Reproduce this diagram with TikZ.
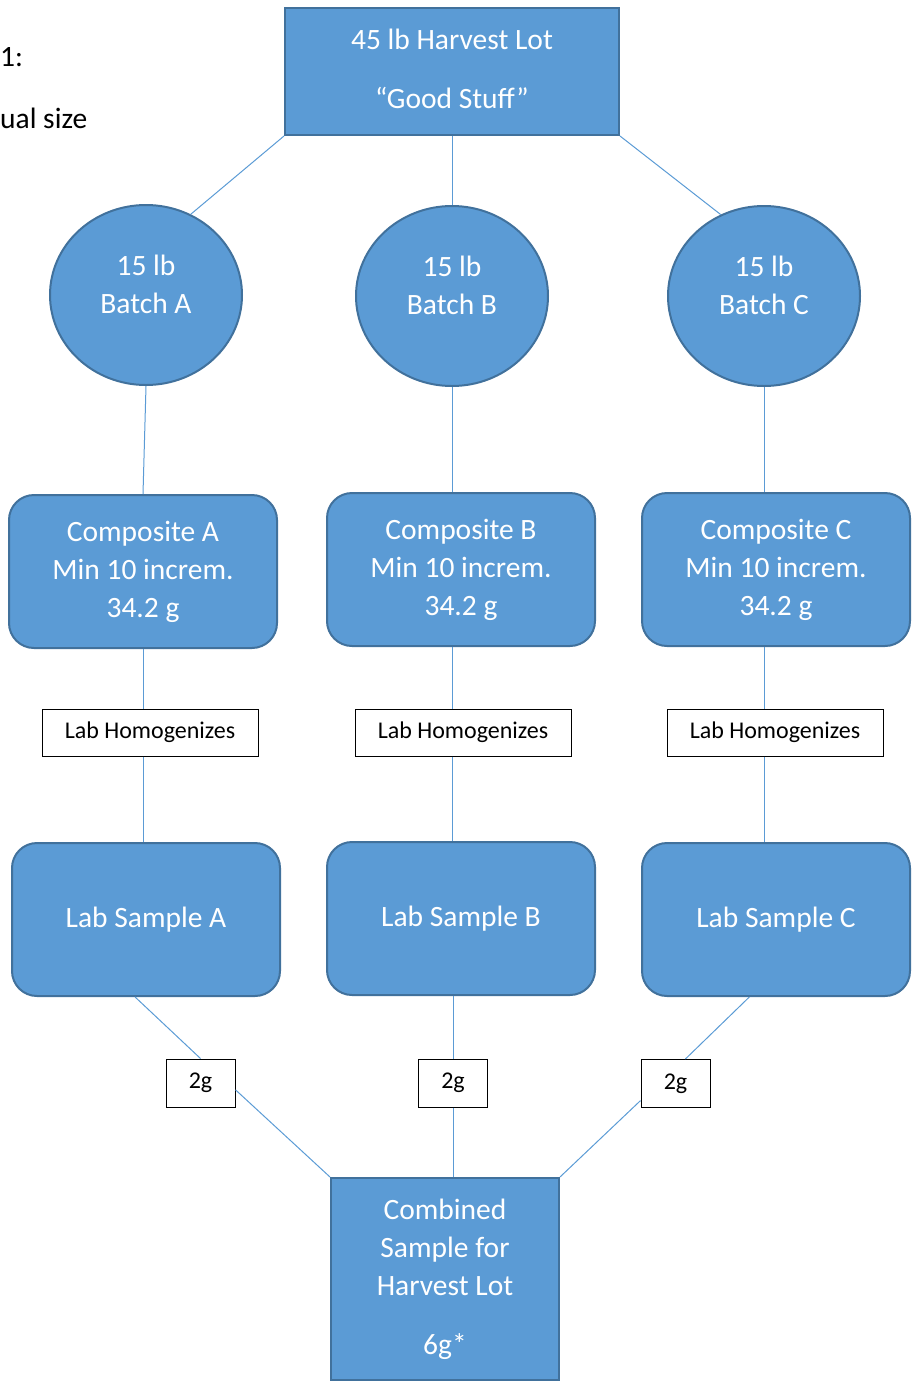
\documentclass[tikz,border=0pt]{standalone}
\usepackage{fontspec}
\setmainfont{Carlito}
\usetikzlibrary{shapes.geometric}
\definecolor{boxblue}{HTML}{5B9BD5}
\definecolor{boxedge}{HTML}{41719C}
\begin{document}
\begin{tikzpicture}[x=1pt,y=-1pt,
	bluebox/.style={draw=boxedge,fill=boxblue,line width=2pt,text=white,align=center,inner sep=0pt,font=\fontsize{29.5}{38}\selectfont},
	lot/.style={bluebox,minimum width=334pt,minimum height=127pt},
	batch/.style={bluebox,ellipse,minimum width=192pt,minimum height=180pt},
	stage/.style={bluebox,rounded corners=25pt,minimum width=268pt,minimum height=153pt},
	lab/.style={draw=black,line width=1pt,fill=white,inner sep=0pt,font=\fontsize{24}{28}\selectfont},
	link/.style={draw=boxblue,line width=1pt}]
	\useasboundingbox (0,0) rectangle (911,1382);
	\node[anchor=west,inner sep=0pt,font=\fontsize{29.5}{38}\selectfont] (fig) at (0,57) {1:};
	\node[anchor=west,inner sep=0pt,font=\fontsize{29.5}{38}\selectfont] (size) at (0,118) {ual size};
	\node[lot] (lot) at (452,71.5) {45 lb Harvest Lot\\[21pt]“Good Stuff”\\[-32pt]\mbox{}};
	\node[batch] (batchA) at (146,295) {15 lb\\Batch A\\[-16pt]\mbox{}};
	\node[batch] (batchB) at (452,296) {15 lb\\Batch B\\[-16pt]\mbox{}};
	\node[batch] (batchC) at (764,296) {15 lb\\Batch C\\[-16pt]\mbox{}};
	\node[stage] (compA) at (143,571.5) {Composite A\\Min 10 increm.\\34.2 g};
	\node[stage] (compB) at (461,569.5) {Composite B\\Min 10 increm.\\34.2 g};
	\node[stage] (compC) at (776,569.5) {Composite C\\Min 10 increm.\\34.2 g};
	\node[lab,minimum width=216pt,minimum height=47pt] (homA) at (150,732.5) {Lab Homogenizes};
	\node[lab,minimum width=216pt,minimum height=47pt] (homB) at (463,732.5) {Lab Homogenizes};
	\node[lab,minimum width=216pt,minimum height=47pt] (homC) at (775,732.5) {Lab Homogenizes};
	\node[stage] (sampleA) at (146,919.5) {Lab Sample A};
	\node[stage] (sampleB) at (461,918.5) {Lab Sample B};
	\node[stage] (sampleC) at (776,919.5) {Lab Sample C};
	\node[lab,minimum width=69pt,minimum height=48pt] (twoA) at (200.5,1083) {2g};
	\node[lab,minimum width=69pt,minimum height=48pt] (twoB) at (453,1083) {2g};
	\node[lab,minimum width=69pt,minimum height=48pt] (twoC) at (675.5,1083.5) {2g};
	\node[bluebox,minimum width=228pt,minimum height=202pt] (comb) at (445,1279) {Combined\\Sample for\\Harvest Lot\\[21pt]6g*};
	% lot to batches
	\draw[link] (lot.south west) -- (batchA.61);
	\draw[link] (lot.south) -- (batchB.north);
	\draw[link] (lot.south east) -- (batchC.118);
	% batches down to lab samples
	\draw[link] (batchA.south) -- (compA.north);
	\draw[link] (batchB.south) -- (batchB.south |- compB.north);
	\draw[link] (batchC.south) -- (batchC.south |- compC.north);
	\draw[link] (compA.south) -- (compA.south |- homA.north);
	\draw[link] (batchB.south |- compB.south) -- (batchB.south |- homB.north);
	\draw[link] (batchC.south |- compC.south) -- (batchC.south |- homC.north);
	\draw[link] (compA.south |- homA.south) -- (compA.south |- sampleA.north);
	\draw[link] (batchB.south |- homB.south) -- (batchB.south |- sampleB.north);
	\draw[link] (batchC.south |- homC.south) -- (batchC.south |- sampleC.north);
	% lab samples to combined sample
	\draw[link] (sampleA.-98) -- (twoA.north);
	\draw[link] (twoB.north) -- (twoB.north |- sampleB.south);
	\draw[link] (sampleC.-109) -- (twoC.68);
	\draw[link] (twoA.-11) -- (comb.north west);
	\draw[link] (twoB.south) -- (twoB.south |- comb.north);
	\draw[link] (twoC.-154) -- (comb.north east);
\end{tikzpicture}
\end{document}
